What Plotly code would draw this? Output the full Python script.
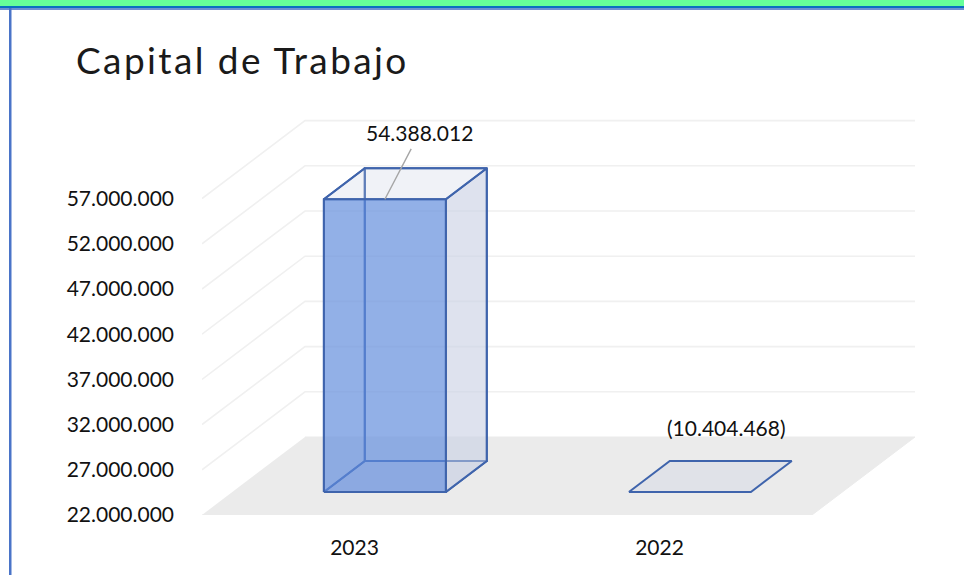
import plotly.graph_objects as go

# ---- data ----
categories = ["2023", "2022"]
values = [54388012, -10404468]
axis_ticks = [22000000, 27000000, 32000000, 37000000, 42000000, 47000000, 52000000, 57000000]
title = "Capital de Trabajo"

# ---- geometry of the oblique (pseudo 3D) chart ----
W, H = 964, 575
L, R, T, B = 202, 915, 119, 515          # plot area in page pixels
CAT_PX = 305.0
STEP_PX = 45.2
TICK_STEP = axis_ticks[1] - axis_ticks[0]
VAL_PER_PX = TICK_STEP / STEP_PX
BASE = axis_ticks[0]
DEPTH_X = 103 / CAT_PX
DEPTH_Y = 78 * VAL_PER_PX
BAR_W = 0.40
BAR_D0, BAR_D1 = 0.295, 0.692
XMAX = (R - L) / CAT_PX
YMAX = BASE + (B - T) * VAL_PER_PX

FONT = "Lato, Carlito, Calibri, sans-serif"
TEXT = "#111111"
EDGE = "#3F64AC"
GRID = "#F0F0F0"


def proj(x, v, d):
    return x + d * DEPTH_X, v + d * DEPTH_Y


def poly(pts, fill=None, line=None, width=2):
    xs = [p[0] for p in pts]
    ys = [p[1] for p in pts]
    return go.Scatter(
        x=xs, y=ys, mode="lines", hoverinfo="skip",
        fill="toself" if fill else None, fillcolor=fill,
        line=dict(color=line or "rgba(0,0,0,0)", width=width),
    )


fig = go.Figure()

# floor
n = len(categories)
fig.add_trace(poly([proj(0, BASE, 0), proj(n, BASE, 0), proj(n, BASE, 1), proj(0, BASE, 1)],
                   fill="#EBEBEB", line="#EBEBEB", width=1))

# gridlines on the side wall and the back wall
for v in axis_ticks[1:]:
    fig.add_trace(poly([proj(0, v, 0), proj(0, v, 1), proj(n, v, 1)], line=GRID, width=1.6))

# bars
for i, val in enumerate(values):
    c = i + 0.5
    x0, x1 = c - BAR_W / 2, c + BAR_W / 2
    top = max(val, BASE)
    f_bl, f_br = proj(x0, BASE, BAR_D0), proj(x1, BASE, BAR_D0)
    f_tl, f_tr = proj(x0, top, BAR_D0), proj(x1, top, BAR_D0)
    b_bl, b_br = proj(x0, BASE, BAR_D1), proj(x1, BASE, BAR_D1)
    b_tl, b_tr = proj(x0, top, BAR_D1), proj(x1, top, BAR_D1)
    fig.add_trace(poly([f_bl, f_br, b_br, b_bl, f_bl], fill="rgba(160,180,220,0.14)", line=EDGE))
    if top > BASE:
        fig.add_trace(poly([b_bl, b_br, b_tr, b_tl, b_bl], fill="rgba(210,216,232,0.25)", line=EDGE))
        fig.add_trace(poly([f_bl, b_bl, b_tl, f_tl, f_bl], fill="rgba(210,216,232,0.25)", line=EDGE))
        fig.add_trace(poly([f_br, b_br, b_tr, f_tr, f_br], fill="rgba(200,208,228,0.50)", line=EDGE))
        fig.add_trace(poly([f_tl, f_tr, b_tr, b_tl, f_tl], fill="rgba(226,230,240,0.20)", line=EDGE))
        fig.add_trace(poly([f_bl, f_br, f_tr, f_tl, f_bl], fill="rgba(96,140,222,0.66)", line=EDGE))


def fmt(v):
    s = f"{abs(v):,}".replace(",", ".")
    return f"({s})" if v < 0 else s


# data labels
fx, fy = proj(0.5, max(values[0], BASE), BAR_D0)
fig.add_annotation(x=fx, y=fy, text=fmt(values[0]), showarrow=True, arrowhead=0, arrowwidth=1.4,
                   arrowcolor="#A6A6A6", ax=35, ay=-67, axref="pixel", ayref="pixel",
                   startstandoff=3, font=dict(family=FONT, size=21, color=TEXT))
fx, fy = proj(1.5, max(values[1], BASE), BAR_D0)
fig.add_annotation(x=fx, y=fy, text=fmt(values[1]), showarrow=False, xshift=37, yshift=64,
                   font=dict(family=FONT, size=21, color=TEXT))


def xp(px):
    return (px - L) / (R - L)


def yp(py):
    return (B - py) / (B - T)


# page frame of the screenshot
frame = [
    (0, 0, W, 6, "#66FF99"),
    (0, 6, W, 8, "#0A70C0"),
    (0, 8, W, 10, "#6E90D2"),
    (9, 8, 11.5, H, "#4A74C8"),
]
shapes = [dict(type="rect", xref="paper", yref="paper", x0=xp(a), x1=xp(c), y0=yp(b), y1=yp(d),
               fillcolor=col, line=dict(width=0), layer="above") for a, b, c, d, col in frame]

fig.update_layout(
    width=W, height=H, autosize=False,
    margin=dict(l=L, r=W - R, t=T, b=H - B, pad=0),
    paper_bgcolor="white", plot_bgcolor="white",
    showlegend=False, shapes=shapes,
    title=dict(text=title, xref="container", yref="container", x=76 / W, xanchor="left",
               y=1 - 61 / H, yanchor="middle",
               font=dict(family=FONT, size=37, color="#1A1A1A")),
    xaxis=dict(range=[0, XMAX], tickvals=[i + 0.5 for i in range(n)], ticktext=categories,
               showgrid=False, zeroline=False, showline=False, ticks="",
               ticklabelstandoff=18, tickfont=dict(family=FONT, size=21, color=TEXT)),
    yaxis=dict(range=[BASE, YMAX], tickvals=axis_ticks, ticktext=[fmt(v) for v in axis_ticks],
               showgrid=False, zeroline=False, showline=False, ticks="",
               ticklabelstandoff=27, tickfont=dict(family=FONT, size=21, color=TEXT)),
)

fig.write_html(
    "out.html",
    config={"displayModeBar": False},
    post_script=(
        "document.body.style.margin='0';document.body.style.overflow='hidden';"
        "document.querySelectorAll('.gtitle').forEach(function(t){t.style.letterSpacing='2.4px';});"
    ),
)
